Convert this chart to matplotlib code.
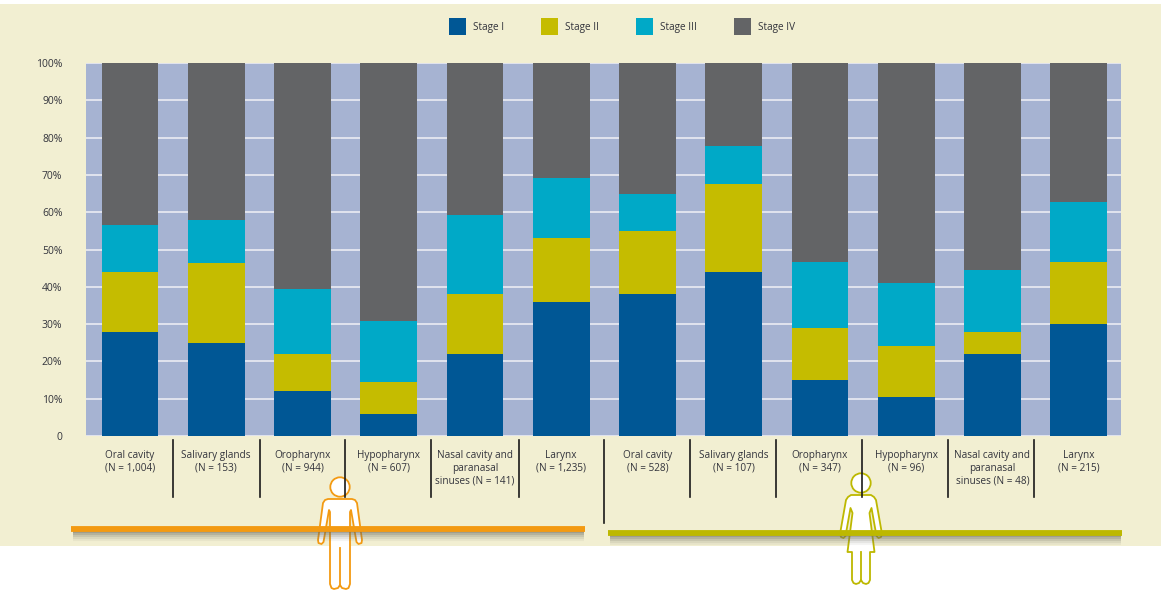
import matplotlib
matplotlib.use("Agg")
import matplotlib.pyplot as plt
import numpy as np
from matplotlib.patches import Circle, Polygon, Rectangle

# --- DATA ---
labels = ["Oral cavity\n(N = 1,004)", "Salivary glands\n(N = 153)", "Oropharynx\n(N = 944)",
          "Hypopharynx\n(N = 607)", "Nasal cavity and\nparanasal\nsinuses (N = 141)", "Larynx\n(N = 1,235)",
          "Oral cavity\n(N = 528)", "Salivary glands\n(N = 107)", "Oropharynx\n(N = 347)",
          "Hypopharynx\n(N = 96)", "Nasal cavity and\nparanasal\nsinuses (N = 48)", "Larynx\n(N = 215)"]
stage_1 = [28, 25, 12, 6, 22, 36, 38, 44, 15, 10.5, 22, 30]
stage_2 = [16, 21.3, 10, 8.5, 16, 17, 17, 23.5, 14, 13.5, 6, 16.7]
stage_3 = [12.5, 11.7, 17.5, 16.3, 21.3, 16.3, 10, 10.2, 17.7, 17, 16.5, 16]
stage_4 = [43.5, 42, 60.5, 69.2, 40.7, 30.7, 35, 22.3, 53.3, 59, 55.5, 37.3]
stage_names = ["Stage I", "Stage II", "Stage III", "Stage IV"]
stage_colors = ["#005795", "#c5bc00", "#00a9c7", "#636466"]
y_ticks = list(range(0, 101, 10))
y_labels = ["0"] + [f"{v}%" for v in y_ticks[1:]]

W, H = 1163, 591
CREAM = "#f2efd2"
ORANGE = "#f39a12"
OLIVE = "#bdb800"
TEXT = "#33343c"

plt.rcParams["font.family"] = ["Open Sans", "DejaVu Sans"]
fig = plt.figure(figsize=(W / 100, H / 100), dpi=100, facecolor="white")


def full_axes(z):
    # axes in pixel coordinates, y pointing down like the picture
    a = fig.add_axes([0, 0, 1, 1], zorder=z)
    a.set_xlim(0, W)
    a.set_ylim(H, 0)
    a.axis("off")
    return a


back = full_axes(0)
back.add_patch(Rectangle((0, 4), 1161, 542, color=CREAM, lw=0))

# --- CHART ---
ax = fig.add_axes([86 / W, 1 - 436 / H, (1121 - 86) / W, (436 - 63) / H], zorder=1)
ax.set_facecolor("#a6b3d2")
x = np.arange(len(labels))
bottom = np.zeros(len(labels))
handles = []
for vals, name, col in zip([stage_1, stage_2, stage_3, stage_4], stage_names, stage_colors):
    bars = ax.bar(x, vals, width=0.66, bottom=bottom, color=col, label=name, zorder=3)
    handles.append(bars)
    bottom += np.array(vals)

ax.set_xlim(-0.51, 11.49)
ax.set_ylim(0, 100)
ax.set_yticks(y_ticks, y_labels, fontsize=7.5, color=TEXT)
ax.set_xticks(x, labels, fontsize=7.2, color=TEXT, linespacing=1.25)
ax.tick_params(axis="both", length=0)
ax.tick_params(axis="x", pad=10)
ax.tick_params(axis="y", pad=17)
ax.grid(axis="y", color="#e6e8f0", lw=1.3, zorder=1)
ax.set_axisbelow(True)
for s in ax.spines.values():
    s.set_visible(False)

leg = ax.legend(handles=handles, ncol=4, frameon=False, loc="center", bbox_to_anchor=(0.518, 1.098),
                fontsize=7.2, handlelength=1.65, handleheight=2.2, handletextpad=0.7, columnspacing=3.75,
                labelcolor=TEXT)

# --- DECORATION ---
deco = full_axes(2)

for sx in [173, 260, 345, 431, 519, 690, 776, 862, 948, 1034]:
    deco.plot([sx, sx], [440, 497], color="#1a1a1a", lw=1.2)
deco.plot([604, 604], [440, 523], color="#1a1a1a", lw=1.2)


def sex_bar(x0, x1, y, col):
    # soft shadow under the bar
    for off, a in [(3, 0.6), (5, 0.45), (7, 0.3), (9, 0.17), (11, 0.07)]:
        deco.plot([x0 + 2, x1 - 1], [y + off, y + off], color="#6b6b60", lw=1.5, alpha=a, solid_capstyle="butt")
    deco.plot([x0, x1], [y, y], color=col, lw=4.2, solid_capstyle="butt")


sex_bar(71, 585, 529, ORANGE)
sex_bar(608, 1122, 533, OLIVE)


def mirror(cx, half):
    left = [(cx - dx, y) for dx, y in half]
    right = [(cx + dx, y) for dx, y in reversed(half)]
    return left + right


# man
man_x = 340
man = [(0, 499), (12, 499), (15, 500), (17, 503), (22, 540), (21.5, 543), (18.5, 544), (16.5, 542), (11, 510), (10, 512),
       (10, 584), (8.5, 588), (6, 589), (2, 588), (0, 585)]
deco.add_patch(Polygon(mirror(man_x, man), closed=True, fc="white", ec=ORANGE, lw=1.3, joinstyle="round"))
deco.add_patch(Circle((man_x, 487), 9.7, fc="white", ec=ORANGE, lw=1.3))
deco.plot([man_x, man_x], [548, 586], color=ORANGE, lw=1.3)

# woman
woman_x = 861
woman = [(0, 495), (10, 495), (13, 497), (15, 500), (21, 534), (20, 537), (17.5, 538), (15.5, 536), (10.5, 508), (8.5, 513),
         (13.5, 552), (9, 552), (9, 580), (7.5, 583), (5, 584), (2, 583), (0, 580)]
deco.add_patch(Polygon(mirror(woman_x, woman), closed=True, fc="white", ec=OLIVE, lw=1.3, joinstyle="round"))
deco.add_patch(Circle((woman_x, 483), 9.7, fc="white", ec=OLIVE, lw=1.3))
deco.plot([woman_x, woman_x], [552, 581], color=OLIVE, lw=1.3)

plt.savefig("out.png", dpi=100)
print("saved out.png")
